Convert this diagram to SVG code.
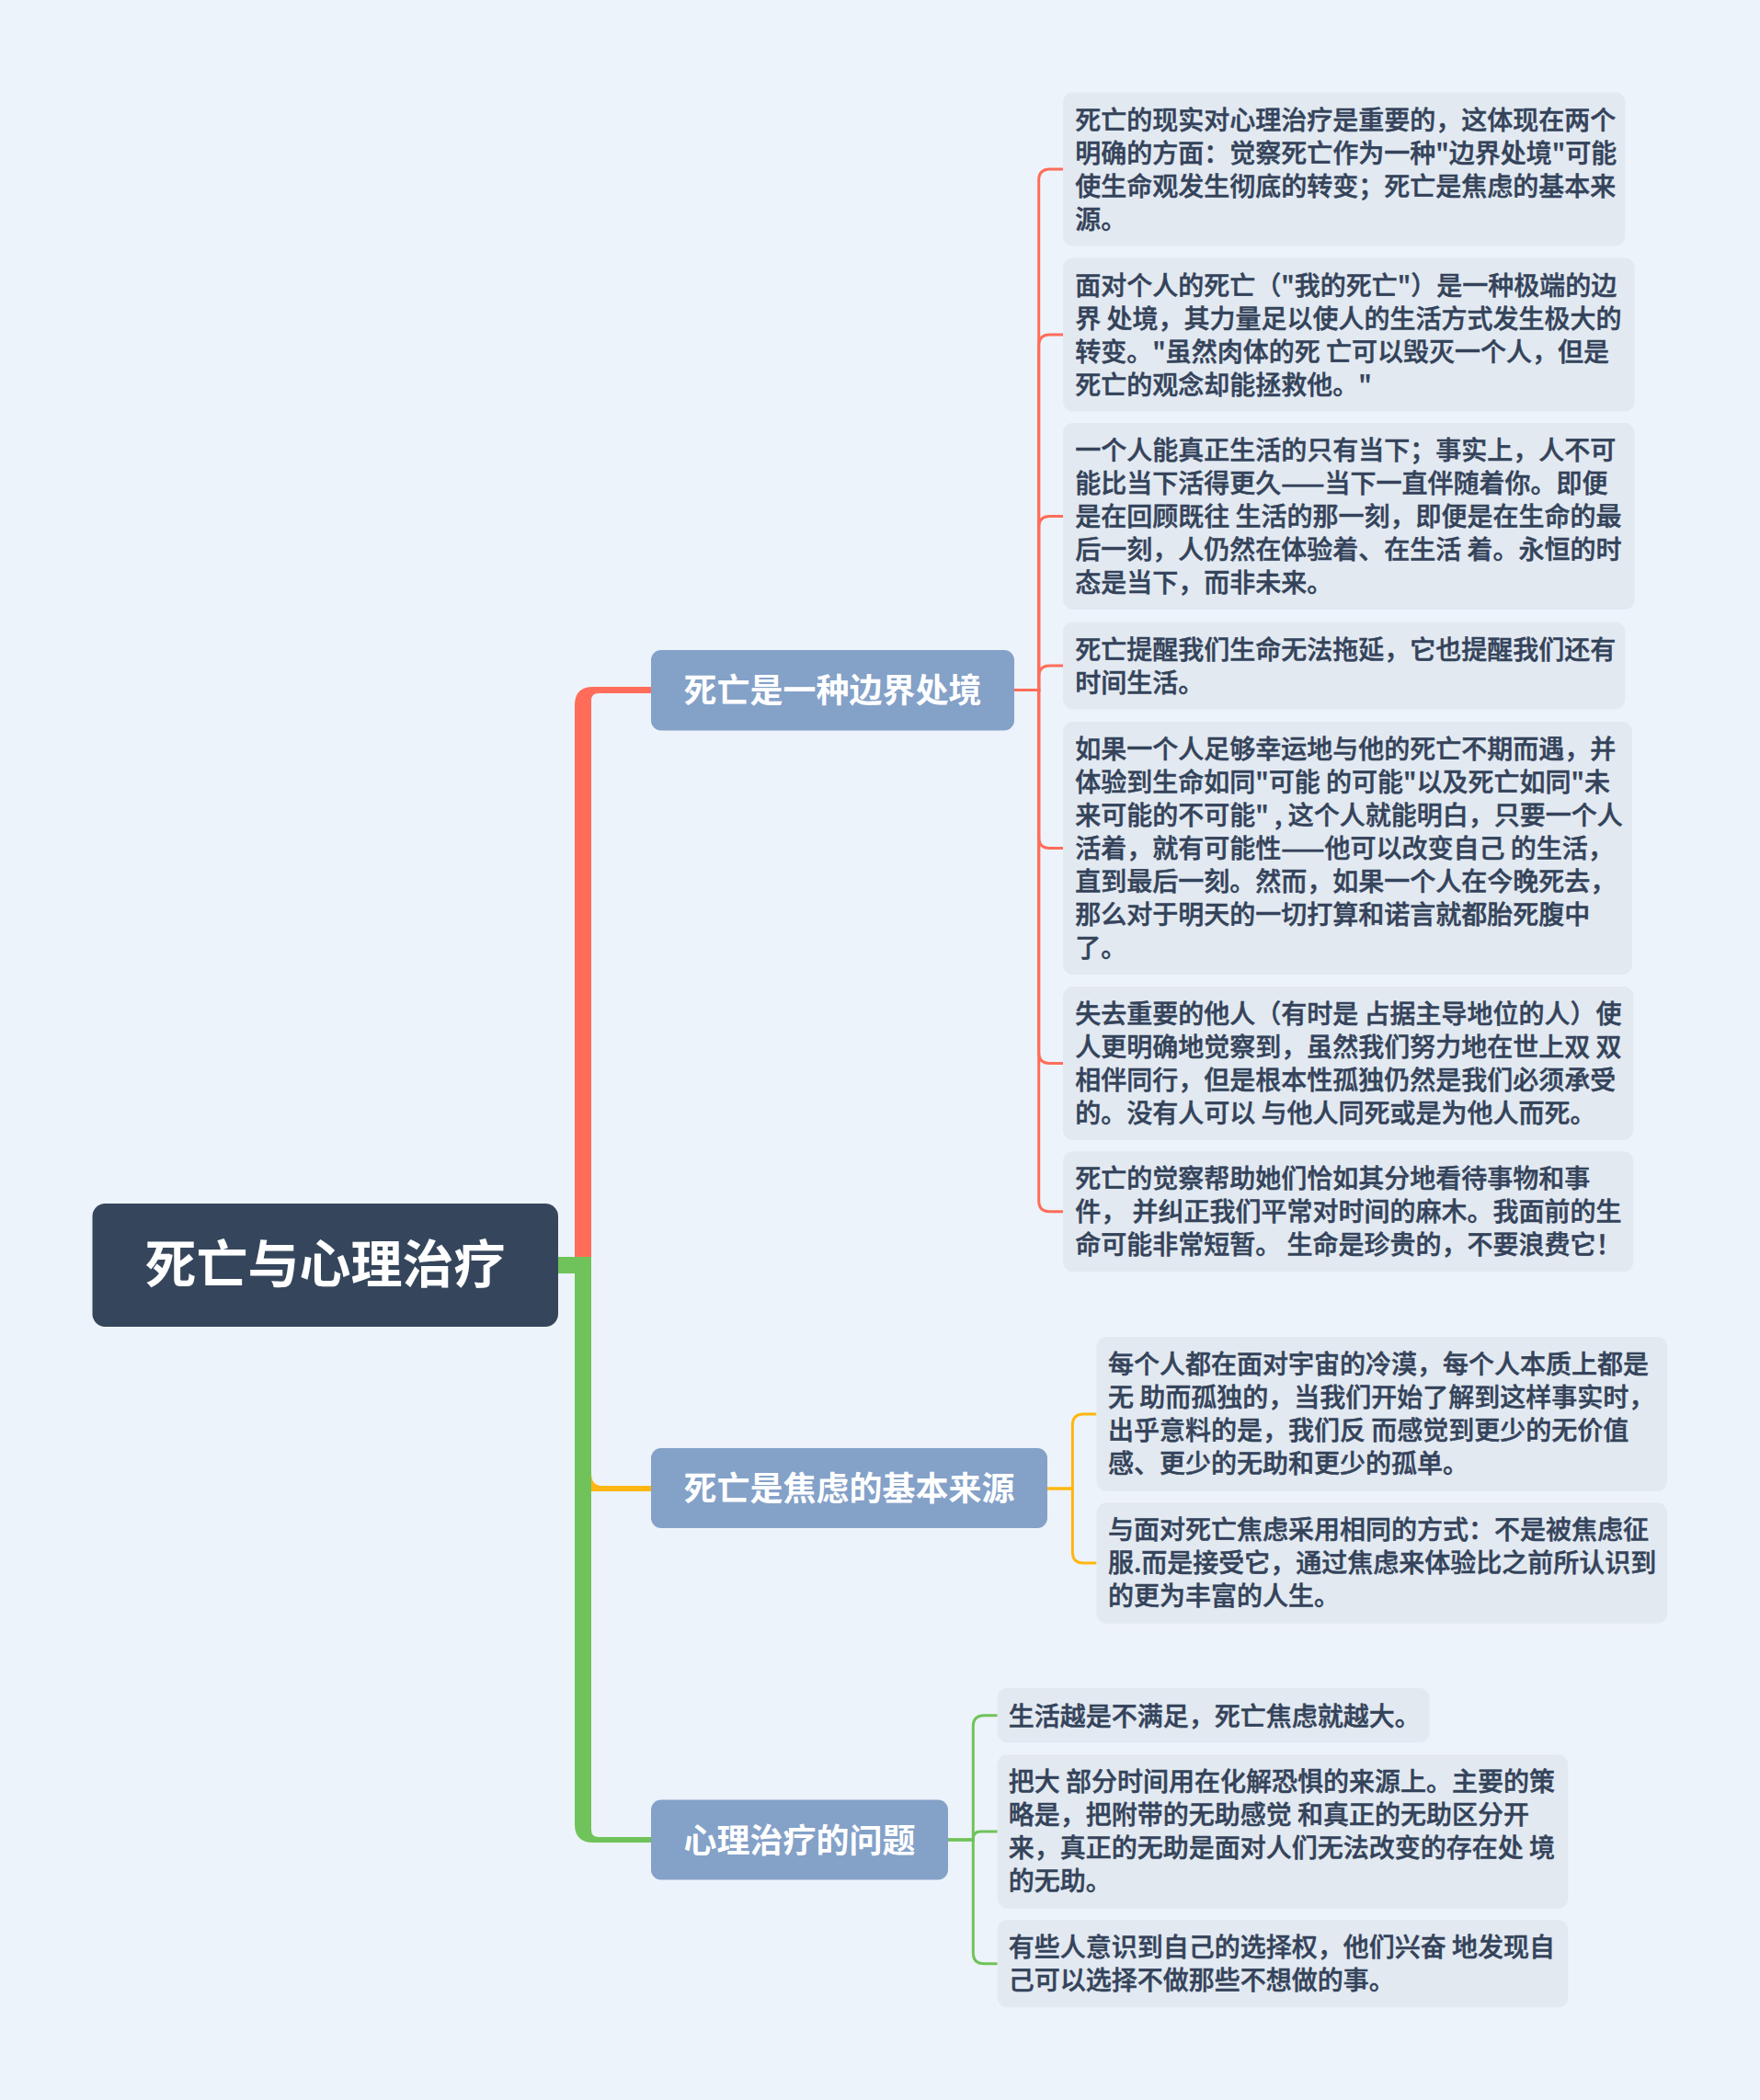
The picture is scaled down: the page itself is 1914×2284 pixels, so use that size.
<svg xmlns="http://www.w3.org/2000/svg" width="1914" height="2284" viewBox="0 0 1914 2284">
<style>
.bg{fill:#EDF3FA}
.root rect{fill:#35465C}
.root text{fill:#FFFFFF;font-family:"Noto Sans CJK SC","Noto Sans",sans-serif;font-size:56px;font-weight:bold}
.main rect{fill:#84A1C8}
.main text{fill:#FFFFFF;font-family:"Noto Sans CJK SC","Noto Sans",sans-serif;font-size:36px;font-weight:bold}
.sub rect{fill:#E2E9F1}
.sub text{fill:#34435A;stroke:#34435A;stroke-width:0.5px;font-family:"Noto Sans CJK SC","Noto Sans",sans-serif;font-size:28px;font-weight:500;white-space:pre}
.lr{fill:none;stroke:#FF6D5A;stroke-width:3}
.ly{fill:none;stroke:#FFB612;stroke-width:3}
.lg{fill:none;stroke:#6FC35A;stroke-width:3}
</style>
<rect class="bg" x="0" y="0" width="1914" height="2284"/>
<g id="connectors">
  <path fill="#FF6D5A" d="M625 1367 L625 767 Q625 747 645 747 L708 747 L708 754 L651 754 Q643 754 643 762 L643 1367 Z"/>
  <path fill="#FFB612" d="M643 1602 Q643 1616 655 1616 L708 1616 L708 1622 L643 1622 Z"/>
  <path fill="#6FC35A" d="M600 1367 L643 1367 L643 1990 Q643 1998 651 1998 L708 1998 L708 2004 L645 2004 Q625 2004 625 1984 L625 1385 L600 1385 Z"/>
  <path class="lr" d="M1103 750.5 L1129.7 750.5 L1129.7 196 Q1129.7 184 1141.7 184 L1156 184"/>
  <path class="lr" d="M1103 750.5 L1129.7 750.5 L1129.7 376 Q1129.7 364 1141.7 364 L1156 364"/>
  <path class="lr" d="M1103 750.5 L1129.7 750.5 L1129.7 573.5 Q1129.7 561.5 1141.7 561.5 L1156 561.5"/>
  <path class="lr" d="M1103 750.5 L1129.7 750.5 L1129.7 736 Q1129.7 724 1141.7 724 L1156 724"/>
  <path class="lr" d="M1103 750.5 L1129.7 750.5 L1129.7 910.5 Q1129.7 922.5 1141.7 922.5 L1156 922.5"/>
  <path class="lr" d="M1103 750.5 L1129.7 750.5 L1129.7 1144.5 Q1129.7 1156.5 1141.7 1156.5 L1156 1156.5"/>
  <path class="lr" d="M1103 750.5 L1129.7 750.5 L1129.7 1305.8 Q1129.7 1317.8 1141.7 1317.8 L1156 1317.8"/>
  <path class="ly" d="M1139 1619 L1166.4 1619 L1166.4 1549.9 Q1166.4 1537.9 1178.4 1537.9 L1192.5 1537.9"/>
  <path class="ly" d="M1139 1619 L1166.4 1619 L1166.4 1688 Q1166.4 1700 1178.4 1700 L1192.5 1700"/>
  <path class="lg" d="M1031 2001 L1058.3 2001 L1058.3 1877.7 Q1058.3 1865.7 1070.3 1865.7 L1084.7 1865.7"/>
  <path class="lg" d="M1031 2001 L1058.3 2001 L1058.3 2000 Q1058.3 1992 1066.3 1992 L1084.7 1992"/>
  <path class="lg" d="M1031 2001 L1058.3 2001 L1058.3 2123.8 Q1058.3 2135.8 1070.3 2135.8 L1084.7 2135.8"/>
</g>
<g id="root" class="root">
  <rect x="100.5" y="1309" width="506.5" height="134" rx="14"/>
  <text x="157.5" y="1395">死亡与心理治疗</text>
</g>
<g id="b1" class="main">
  <rect x="708" y="707" width="395" height="87.5" rx="11"/>
  <text x="743.5" y="763.5">死亡是一种边界处境</text>
</g>
<g id="b2" class="main">
  <rect x="708" y="1575" width="431" height="87" rx="11"/>
  <text x="743.5" y="1632">死亡是焦虑的基本来源</text>
</g>
<g id="b3" class="main">
  <rect x="708" y="1957.5" width="323" height="87" rx="11"/>
  <text x="743.5" y="2014.5">心理治疗的问题</text>
</g>
<g id="c1" class="sub">
  <rect x="1156" y="100.5" width="611.4" height="167" rx="11"/>
  <text x="1169.2" y="140.5">死亡的现实对心理治疗是重要的，这体现在两个</text>
  <text x="1169.2" y="176.5">明确的方面：觉察死亡作为一种"边界处境"可能</text>
  <text x="1169.2" y="212.5">使生命观发生彻底的转变；死亡是焦虑的基本来</text>
  <text x="1169.2" y="248.5">源。</text>
</g>
<g id="c2" class="sub">
  <rect x="1156" y="280.5" width="621.7" height="167" rx="11"/>
  <text x="1169.2" y="320.5">面对个人的死亡（"我的死亡"）是一种极端的边</text>
  <text x="1169.2" y="356.5">界 处境，其力量足以使人的生活方式发生极大的</text>
  <text x="1169.2" y="392.5">转变。"虽然肉体的死 亡可以毁灭一个人，但是</text>
  <text x="1169.2" y="428.5">死亡的观念却能拯救他。"</text>
</g>
<g id="c3" class="sub">
  <rect x="1156" y="460" width="621.7" height="203" rx="11"/>
  <text x="1169.2" y="500">一个人能真正生活的只有当下；事实上，人不可</text>
  <text x="1169.2" y="536">能比当下活得更久——当下一直伴随着你。即便</text>
  <text x="1169.2" y="572">是在回顾既往 生活的那一刻，即便是在生命的最</text>
  <text x="1169.2" y="608">后一刻，人仍然在体验着、在生活 着。永恒的时</text>
  <text x="1169.2" y="644">态是当下，而非未来。</text>
</g>
<g id="c4" class="sub">
  <rect x="1156" y="676.5" width="611.4" height="95" rx="11"/>
  <text x="1169.2" y="716.5">死亡提醒我们生命无法拖延，它也提醒我们还有</text>
  <text x="1169.2" y="752.5">时间生活。</text>
</g>
<g id="c5" class="sub">
  <rect x="1156" y="785" width="619" height="275" rx="11"/>
  <text x="1169.2" y="825">如果一个人足够幸运地与他的死亡不期而遇，并</text>
  <text x="1169.2" y="861">体验到生命如同"可能 的可能"以及死亡如同"未</text>
  <text x="1169.2" y="897">来可能的不可能" , 这个人就能明白，只要一个人</text>
  <text x="1169.2" y="933">活着，就有可能性——他可以改变自己 的生活，</text>
  <text x="1169.2" y="969">直到最后一刻。然而，如果一个人在今晚死去，</text>
  <text x="1169.2" y="1005">那么对于明天的一切打算和诺言就都胎死腹中</text>
  <text x="1169.2" y="1041">了。</text>
</g>
<g id="c6" class="sub">
  <rect x="1156" y="1073" width="620.4" height="167" rx="11"/>
  <text x="1169.2" y="1113">失去重要的他人（有时是 占据主导地位的人）使</text>
  <text x="1169.2" y="1149">人更明确地觉察到，虽然我们努力地在世上双 双</text>
  <text x="1169.2" y="1185">相伴同行，但是根本性孤独仍然是我们必须承受</text>
  <text x="1169.2" y="1221">的。没有人可以 与他人同死或是为他人而死。</text>
</g>
<g id="c7" class="sub">
  <rect x="1156" y="1252.3" width="620.4" height="131" rx="11"/>
  <text x="1169.2" y="1292.3">死亡的觉察帮助她们恰如其分地看待事物和事</text>
  <text x="1169.2" y="1328.3">件， 并纠正我们平常对时间的麻木。我面前的生</text>
  <text x="1169.2" y="1364.3">命可能非常短暂。 生命是珍贵的，不要浪费它！</text>
</g>
<g id="c8" class="sub">
  <rect x="1192.5" y="1454" width="620.5" height="167.7" rx="11"/>
  <text x="1205" y="1494">每个人都在面对宇宙的冷漠，每个人本质上都是</text>
  <text x="1205" y="1530">无 助而孤独的，当我们开始了解到这样事实时，</text>
  <text x="1205" y="1566">出乎意料的是，我们反 而感觉到更少的无价值</text>
  <text x="1205" y="1602">感、更少的无助和更少的孤单。</text>
</g>
<g id="c9" class="sub">
  <rect x="1192.5" y="1634.3" width="620.5" height="131.4" rx="11"/>
  <text x="1205" y="1674.3">与面对死亡焦虑采用相同的方式：不是被焦虑征</text>
  <text x="1205" y="1710.3">服.而是接受它，通过焦虑来体验比之前所认识到</text>
  <text x="1205" y="1746.3">的更为丰富的人生。</text>
</g>
<g id="c10" class="sub">
  <rect x="1084.7" y="1836" width="470" height="59.3" rx="11"/>
  <text x="1096.8" y="1876.5">生活越是不满足，死亡焦虑就越大。</text>
</g>
<g id="c11" class="sub">
  <rect x="1084.7" y="1908.3" width="620.6" height="167.4" rx="11"/>
  <text x="1096.8" y="1948.3">把大 部分时间用在化解恐惧的来源上。主要的策</text>
  <text x="1096.8" y="1984.3">略是，把附带的无助感觉 和真正的无助区分开</text>
  <text x="1096.8" y="2020.3">来，真正的无助是面对人们无法改变的存在处 境</text>
  <text x="1096.8" y="2056.3">的无助。</text>
</g>
<g id="c12" class="sub">
  <rect x="1084.7" y="2088.3" width="620.6" height="95" rx="11"/>
  <text x="1096.8" y="2128.3">有些人意识到自己的选择权，他们兴奋 地发现自</text>
  <text x="1096.8" y="2164.3">己可以选择不做那些不想做的事。</text>
</g>
</svg>
